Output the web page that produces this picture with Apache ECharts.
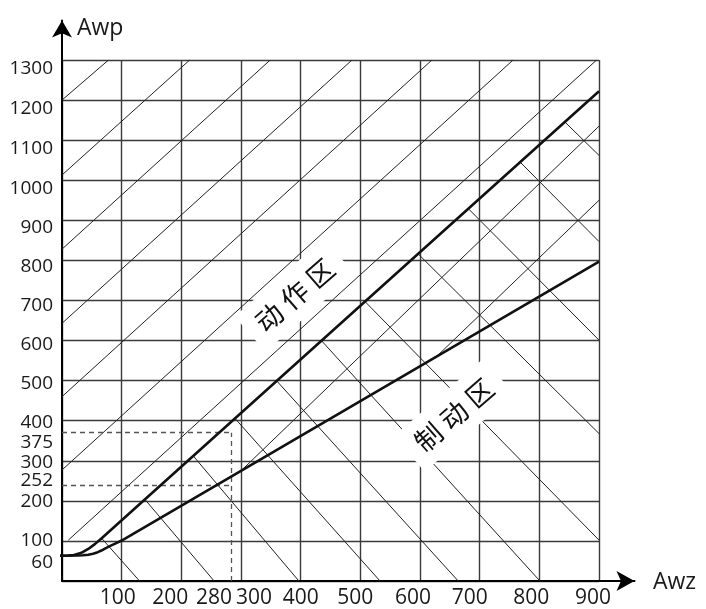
<!DOCTYPE html>
<html>
<head>
<meta charset="utf-8">
<script src="https://cdn.jsdelivr.net/npm/echarts@6/dist/echarts.min.js"></script>
<style>
html,body{margin:0;padding:0;background:#fff;}
#c{width:706px;height:609px;}
</style>
</head>
<body>
<div id="c"></div>
<script>
// ---------------- data ----------------
const xTickLabels = [100, 200, 280, 300, 400, 500, 600, 700, 800, 900];
const yTickLabels = [60, 100, 200, 252, 300, 375, 400, 500, 600, 700, 800, 900, 1000, 1100, 1200, 1300];

// operating boundary (动作区 above) : Awz -> Awp
const upperAwz = [-13, 0, 10, 20, 30, 36, 44, 55, 66.5, 900];
const upperAwp = [63, 63, 63.6, 65, 69, 73, 80, 92, 106.5, 1222];
// braking boundary (制动区 below)
const lowerAwz = [-13, 0, 25, 35, 44, 52, 60, 66, 72, 80, 90, 100, 900];
const lowerAwp = [63, 63, 63.5, 64.2, 65.5, 68, 72, 76, 81, 87, 94, 101, 797];

// dashed guide lines
const guideAwz = [283];
const guideAwp = [370, 239.5];

// hatch lines, each [x1, y1, x2, y2] in data units
const hatchRising = [
  [0, 1200, 78, 1300],
  [0, 1013, 214, 1300],
  [0, 828, 349, 1300],
  [0, 643, 486, 1300],
  [0, 460, 620, 1300],
  [0, 277, 756, 1300],
  [10.6, 102, 896, 1300],
  [298, 272, 900, 1135],
  [627, 559, 900, 950]
];
const hatchFalling = [
  [66.5, 106.5, 130, 0],
  [139, 203.5, 255, 0],
  [220, 312, 397, 0],
  [290, 405.5, 533, 0],
  [360, 499, 664, 0],
  [435, 599.5, 801, 0],
  [508, 697, 900, 102],
  [597, 816, 900, 368],
  [681, 929, 900, 601],
  [768, 1045, 900, 847],
  [843, 1145, 900, 1062]
];

const zoneNames = ['动作区', '制动区'];
const zoneAwz = [390, 657];
const zoneAwp = [713, 414];

// ---------------- styling ----------------
const LABEL_FONT = '"Open Sans", "DejaVu Sans", sans-serif';
const CJK_FONT = '"Noto Sans CJK SC", sans-serif';
const INK = '#1a1a1a';

// pixel nudges of individual tick labels (as in the reference)
const xLabelShift = {100: -4, 200: -11, 280: -15, 300: 13, 400: 0, 500: -5, 600: -7, 700: -10, 800: -8, 900: -6};
const yLabelShift = {60: 5.5, 100: 0, 200: 1, 252: 1, 300: 2, 375: 12, 400: 2, 500: 3, 600: 4, 700: 5, 800: 6, 900: 7, 1000: 8, 1100: 8, 1200: 9, 1300: 9};

const xRich = {t: {fontFamily: LABEL_FONT, fontSize: 21, color: INK, lineHeight: 22}};
Object.keys(xLabelShift).forEach(k => {
  const w = Math.abs(2 * xLabelShift[k]);
  if (w) xRich['w' + w] = {width: w, fontSize: 1, lineHeight: 1};
});
function fmtX(v) {
  const d = xLabelShift[v] || 0;
  if (!d) return '{t|' + v + '}';
  const sp = '{w' + Math.abs(2 * d) + '| }';
  return d < 0 ? '{t|' + v + '}' + sp : sp + '{t|' + v + '}';
}
const yRich = {t: {fontFamily: LABEL_FONT, fontSize: 19, color: INK, lineHeight: 10, align: 'right'}};
Object.keys(yLabelShift).forEach(k => {
  const h = Math.abs(2 * yLabelShift[k]);
  if (h) yRich['h' + String(h).replace('.', '_')] = {fontSize: 1, lineHeight: h};
});
function fmtY(v) {
  const d = yLabelShift[v] || 0;
  if (!d) return '{t|' + v + '}';
  const sp = '{h' + String(Math.abs(2 * d)).replace('.', '_') + '| }';
  return d > 0 ? sp + '\n{t|' + v + '}' : '{t|' + v + '}\n' + sp;
}

const pairs = (xs, ys) => xs.map((x, i) => [x, ys[i]]);
const segs = arr => arr.map(s => ({coords: [[s[0], s[1]], [s[2], s[3]]]}));

const guideSegs = [
  {coords: [[guideAwz[0], 0], [guideAwz[0], guideAwp[0]]]},
  {coords: [[0, guideAwp[0]], [guideAwz[0], guideAwp[0]]]},
  {coords: [[0, guideAwp[1]], [guideAwz[0], guideAwp[1]]]}
];

const chart = echarts.init(document.getElementById('c'), null, {renderer: 'canvas'});
const option = {
  animation: false,
  backgroundColor: '#fff',
  grid: [
    {left: 62, right: 107, top: 60, bottom: 28, outerBoundsMode: 'none'},
    {left: 62, right: 71.5, top: 20.5, bottom: 28, outerBoundsMode: 'none'}
  ],
  xAxis: [
    {
      type: 'value', gridIndex: 0, min: 0, max: 900, interval: 100,
      axisLine: {show: false}, axisTick: {show: false},
      splitLine: {show: true, lineStyle: {color: '#3a3a3a', width: 1.4}},
      axisLabel: {customValues: xTickLabels, formatter: fmtX, rich: xRich, margin: 6,
                  hideOverlap: false, showMinLabel: true, showMaxLabel: true}
    },
    {
      type: 'value', gridIndex: 1, min: 0, max: 1,
      axisLine: {show: true, onZero: false, symbol: ['none', 'arrow'], symbolSize: [15, 18], lineStyle: {color: '#000', width: 2}},
      axisTick: {show: false}, axisLabel: {show: false}, splitLine: {show: false}
    }
  ],
  yAxis: [
    {
      type: 'value', gridIndex: 0, min: 0, max: 1300, interval: 100,
      axisLine: {show: false}, axisTick: {show: false},
      splitLine: {show: true, lineStyle: {color: '#3a3a3a', width: 1.4}},
      axisLabel: {customValues: yTickLabels, formatter: fmtY, rich: yRich, margin: 9,
                  hideOverlap: false, showMinLabel: true, showMaxLabel: true}
    },
    {
      type: 'value', gridIndex: 1, min: 0, max: 1,
      axisLine: {show: true, onZero: false, symbol: ['none', 'arrow'], symbolSize: [15, 17], lineStyle: {color: '#000', width: 2}},
      axisTick: {show: false}, axisLabel: {show: false}, splitLine: {show: false}
    }
  ],
  series: [
    {
      type: 'lines', coordinateSystem: 'cartesian2d', xAxisIndex: 0, yAxisIndex: 0,
      data: segs(hatchRising), silent: true, z: 3,
      lineStyle: {color: '#222', width: 1, opacity: 1, type: 'solid'}
    },
    {
      type: 'lines', coordinateSystem: 'cartesian2d', xAxisIndex: 0, yAxisIndex: 0,
      data: segs(hatchFalling), silent: true, z: 3,
      lineStyle: {color: '#222', width: 1, opacity: 1, type: 'solid'}
    },
    {
      type: 'lines', coordinateSystem: 'cartesian2d', xAxisIndex: 0, yAxisIndex: 0,
      data: guideSegs, silent: true, z: 3,
      lineStyle: {color: '#555', width: 1.3, opacity: 1, type: [5, 4]}
    },
    {
      type: 'line', xAxisIndex: 0, yAxisIndex: 0, data: pairs(upperAwz, upperAwp),
      showSymbol: false, smooth: false, clip: false, silent: true, z: 5,
      lineStyle: {color: '#111', width: 2.6, join: 'round'}
    },
    {
      type: 'line', xAxisIndex: 0, yAxisIndex: 0, data: pairs(lowerAwz, lowerAwp),
      showSymbol: false, smooth: false, clip: false, silent: true, z: 5,
      lineStyle: {color: '#111', width: 2.6, join: 'round'}
    }
  ]
};
chart.setOption(option);

const graphics = [
  {type: 'text', x: 77, y: 28.5, z: 20, style: {text: 'Awp', font: '23px ' + LABEL_FONT, fill: INK, align: 'left', verticalAlign: 'middle'}},
  {type: 'text', x: 653, y: 582, z: 20, style: {text: 'Awz', font: '23px ' + LABEL_FONT, fill: INK, align: 'left', verticalAlign: 'middle'}}
];
zoneNames.forEach((name, i) => {
  const p = chart.convertToPixel({gridIndex: 0}, [zoneAwz[i], zoneAwp[i]]);
  graphics.push({
    type: 'text', x: p[0], y: p[1], rotation: 41 * Math.PI / 180, z: 20,
    style: {
      text: name.split('').join('\u2005'), font: '27px ' + CJK_FONT, fill: '#111',
      align: 'center', verticalAlign: 'middle',
      backgroundColor: '#fff', padding: [10, 12]
    }
  });
});
chart.setOption({graphic: graphics});
</script>
</body>
</html>
